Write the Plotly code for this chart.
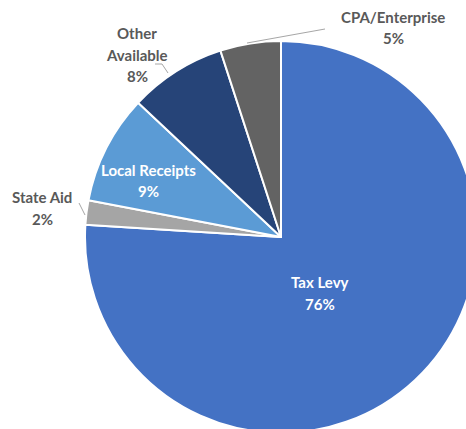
import plotly.graph_objects as go

# Revenue sources (percent of total)
categories = ["Tax Levy", "State Aid", "Local Receipts", "Other Available", "CPA/Enterprise"]
shares = [76, 2, 9, 8, 5]
display_names = ["Tax Levy", "State Aid", "Local Receipts", "Other<br>Available", "CPA/Enterprise"]
colors = ["#4472C4", "#A5A5A5", "#5B9BD5", "#264478", "#636363"]

# Canvas a bit larger than the viewport so the pie can run off the right/bottom edge
W, H = 490, 445
CX, CY, R = 281, 237, 196
LINE_GAP = 21.5


def px(x):
    return x / W


def py(y):
    return 1 - y / H


fig = go.Figure(
    go.Pie(
        labels=categories,
        values=shares,
        sort=False,
        direction="clockwise",
        rotation=0,
        marker=dict(colors=colors, line=dict(color="white", width=2)),
        textinfo="none",
        hoverinfo="label+percent",
        showlegend=False,
        domain=dict(x=[px(CX - R), px(CX + R)], y=[py(CY + R), py(CY - R)]),
    )
)

# Pixel centre of each label's first line, plus its colour
label_pos = {
    "Tax Levy": (320, 282, "white"),
    "State Aid": (42, 197, "#595959"),
    "Local Receipts": (148, 170, "white"),
    "Other Available": (137, 33, "#595959"),
    "CPA/Enterprise": (393, 17, "#595959"),
}
for name, disp, val in zip(categories, display_names, shares):
    x, y, col = label_pos[name]
    lines = disp.split("<br>") + [f"{val}%"]
    for i, line in enumerate(lines):
        fig.add_annotation(
            x=px(x), y=py(y + i * LINE_GAP), xref="paper", yref="paper",
            text=f"<b>{line}</b>", showarrow=False,
            font=dict(family="Lato, Open Sans, sans-serif", size=15, color=col),
            align="center", xanchor="center", yanchor="middle",
        )

# Leader lines for the labels sitting outside the pie
leaders = [
    [(79, 203), (85, 215)],
    [(155, 64), (162, 64), (168, 73)],
    [(247, 43), (325, 29)],
]
for pts in leaders:
    path = "M " + " L ".join(f"{px(x)},{py(y)}" for x, y in pts)
    fig.add_shape(type="path", path=path, xref="paper", yref="paper",
                  line=dict(color="#A6A6A6", width=1))

fig.update_layout(
    width=W, height=H,
    margin=dict(l=0, r=0, t=0, b=0),
    paper_bgcolor="white",
    plot_bgcolor="white",
)

fig.write_html(
    "out.html",
    post_script="document.body.style.margin='0';document.body.style.overflow='hidden';",
)
